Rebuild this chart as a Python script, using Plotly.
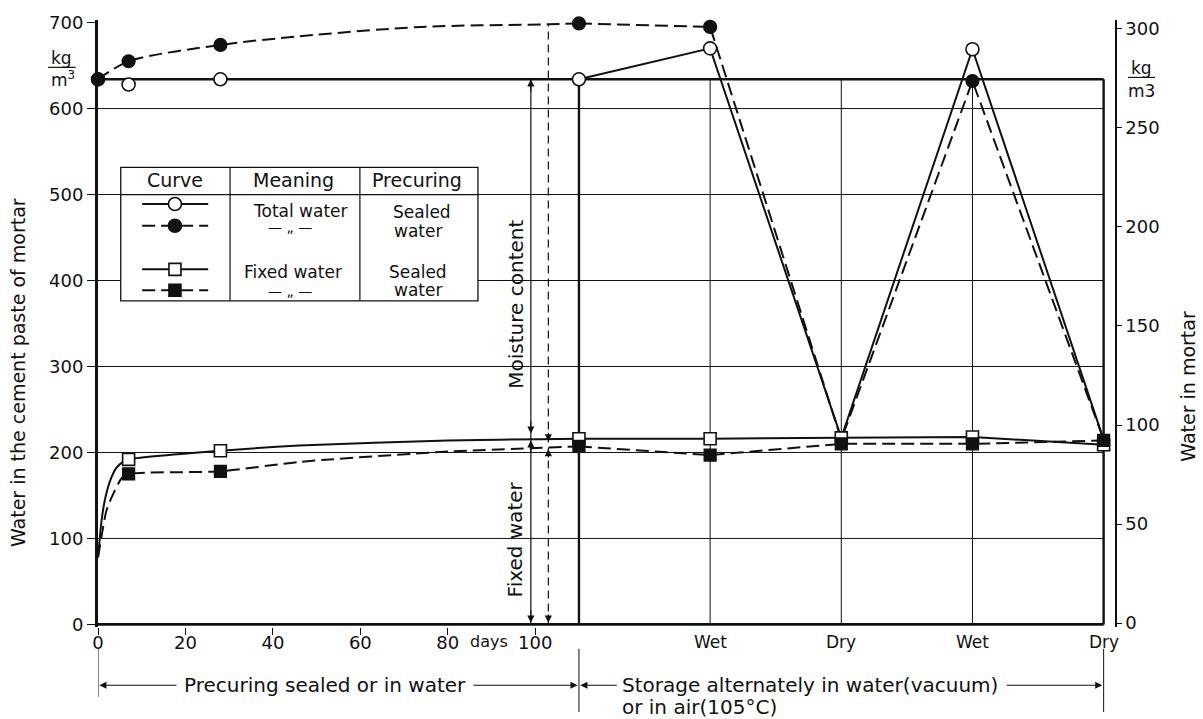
import plotly.graph_objects as go

FONT = "DejaVu Sans"
INK = "#111111"

# ---------------- data ----------------
# precuring ages in days; the storage stages continue on the same day scale
pre_days = [0, 7, 28, 110]
stage_days = [140, 170, 200, 230]
stage_labels = ["Wet", "Dry", "Wet", "Dry"]
day_ticks = [0, 20, 40, 60, 80, 100]
left_ticks = [0, 100, 200, 300, 400, 500, 600, 700]
right_ticks = [0, 50, 100, 150, 200, 250, 300]

# total water, kg/m3 of cement paste, at pre_days + stage_days
total_sealed = [634, 628, 634, 634, 670, 217, 669, 215]
total_water = [634, 655, 674, 699, 695, 215, 632, 215]
# water-precured total water along the precuring period
total_water_curve_days = [0, 7, 28, 46, 74, 103, 110]
total_water_curve = [634, 655, 674, 684, 695, 698, 699]

# fixed water, kg/m3 of cement paste, at the measured ages
fixed_days = [7, 28, 110, 140, 170, 200, 230]
fixed_sealed = [192, 202, 216, 216, 217, 218, 209]
fixed_water = [175, 178, 207, 197, 210, 210, 214]
# fixed-water growth during precuring
fixed_sealed_curve_days = [0, 0.8, 1.5, 2.7, 4.2, 5.7, 7, 28, 46, 80, 110]
fixed_sealed_curve = [78, 120, 143, 166, 182, 189, 192, 202, 208, 214, 216]
fixed_water_curve_days = [0, 1.0, 1.9, 3.4, 5.4, 7, 28, 46, 80, 110]
fixed_water_curve = [78, 108, 132, 151, 170, 175, 178, 189, 201, 207]

initial_water = total_sealed[0]
storage_start = pre_days[-1]
end_day = stage_days[-1]
marker_day_sealed = 99     # moisture / fixed water split, sealed
marker_day_water = 103     # moisture / fixed water split, water-precured

# ---------------- figure ----------------
all_days = pre_days + stage_days
wet_idx = list(range(len(pre_days))) + [len(pre_days) + k for k, s in enumerate(stage_labels) if s == "Wet"]
stor_x = [storage_start] + stage_days
n_pre_fixed = fixed_days.index(storage_start)

fig = go.Figure()

DASH = "13px,6px"
LW = 2.0

# total water
fig.add_trace(go.Scatter(x=stor_x, y=total_sealed[len(pre_days) - 1:], mode="lines",
                         line=dict(color=INK, width=LW), hoverinfo="skip"))
fig.add_trace(go.Scatter(x=total_water_curve_days, y=total_water_curve, mode="lines",
                         line=dict(color=INK, width=LW, dash=DASH, shape="spline", smoothing=0.8),
                         hoverinfo="skip"))
fig.add_trace(go.Scatter(x=stor_x, y=total_water[len(pre_days) - 1:], mode="lines",
                         line=dict(color=INK, width=LW, dash=DASH), hoverinfo="skip"))
# fixed water
fig.add_trace(go.Scatter(x=fixed_sealed_curve_days, y=fixed_sealed_curve, mode="lines",
                         line=dict(color=INK, width=LW, shape="spline", smoothing=0.6),
                         hoverinfo="skip"))
fig.add_trace(go.Scatter(x=fixed_days[n_pre_fixed:], y=fixed_sealed[n_pre_fixed:], mode="lines",
                         line=dict(color=INK, width=LW), hoverinfo="skip"))
fig.add_trace(go.Scatter(x=fixed_water_curve_days, y=fixed_water_curve, mode="lines",
                         line=dict(color=INK, width=LW, dash=DASH, shape="spline", smoothing=0.6),
                         hoverinfo="skip"))
fig.add_trace(go.Scatter(x=fixed_days[n_pre_fixed:], y=fixed_water[n_pre_fixed:], mode="lines",
                         line=dict(color=INK, width=LW, dash=DASH), hoverinfo="skip"))

# markers
fig.add_trace(go.Scatter(x=[all_days[i] for i in wet_idx], y=[total_sealed[i] for i in wet_idx],
                         mode="markers", cliponaxis=False, hoverinfo="skip",
                         marker=dict(symbol="circle", size=13, color="white",
                                     line=dict(color=INK, width=1.6))))
fig.add_trace(go.Scatter(x=[all_days[i] for i in wet_idx], y=[total_water[i] for i in wet_idx],
                         mode="markers", cliponaxis=False, hoverinfo="skip",
                         marker=dict(symbol="circle", size=13, color=INK,
                                     line=dict(color=INK, width=1.2))))
fig.add_trace(go.Scatter(x=fixed_days, y=fixed_sealed, mode="markers", cliponaxis=False,
                         hoverinfo="skip",
                         marker=dict(symbol="square", size=12, color="white",
                                     line=dict(color=INK, width=1.6))))
fig.add_trace(go.Scatter(x=fixed_days, y=fixed_water, mode="markers", cliponaxis=False,
                         hoverinfo="skip",
                         marker=dict(symbol="square", size=12, color=INK,
                                     line=dict(color=INK, width=1.2))))
# anchor for the right-hand axis
fig.add_trace(go.Scatter(x=[0], y=[0], yaxis="y2", mode="markers",
                         marker=dict(opacity=0), hoverinfo="skip"))

shapes = []


def seg(x0, y0, x1, y1, w=1.0, dash=None, layer="below", xref="x", yref="y"):
    d = dict(type="line", x0=x0, y0=y0, x1=x1, y1=y1, xref=xref, yref=yref,
             line=dict(color=INK, width=w), layer=layer)
    if dash:
        d["line"]["dash"] = dash
    return d


# grid inside the frame
for v in left_ticks[1:-1]:
    shapes.append(seg(0, v, end_day, v, 1.0))
for d in stage_days[:-1]:
    shapes.append(seg(d, 0, d, initial_water, 1.0))
# frame: initial water level, start of storage, end of storage, base line
shapes.append(seg(0, initial_water, end_day, initial_water, 2.4))
shapes.append(seg(storage_start, 0, storage_start, initial_water, 2.4))
shapes.append(seg(end_day, 0, end_day, initial_water, 2.4))
shapes.append(seg(0, 0, end_day, 0, 2.6))
# moisture / fixed water markers
shapes.append(seg(marker_day_sealed, 0, marker_day_sealed, initial_water, 1.2))
shapes.append(seg(marker_day_water, 0, marker_day_water, total_water_curve[-2], 1.2, dash="8px,5px"))

# bottom brackets
for d, y1 in [(0, -0.115), (storage_start, -0.14), (end_day, -0.14)]:
    shapes.append(seg(d, -0.036, d, y1, 1.0, layer="above", yref="paper"))

# kg/m3 fraction bars
shapes.append(seg(-0.049, 0.922, -0.022, 0.922, 1.2, layer="above", xref="paper", yref="paper"))
shapes.append(seg(1.0128, 0.9054, 1.0393, 0.9054, 1.2, layer="above", xref="paper", yref="paper"))

# legend table
LX0, LX1, LY0, LY1 = 5.2, 86.9, 376.4, 531.7
shapes.append(dict(type="rect", x0=LX0, x1=LX1, y0=LY0, y1=LY1, xref="x", yref="y",
                   fillcolor="white", line=dict(color=INK, width=1.3), layer="above"))
shapes.append(seg(LX0, 500, LX1, 500, 1.2, layer="above"))
shapes.append(seg(30.2, LY0, 30.2, LY1, 1.2, layer="above"))
shapes.append(seg(59.9, LY0, 59.9, LY1, 1.2, layer="above"))
rows = [(489, None, "circle", "white"), (463.7, DASH, "circle", INK),
        (413, None, "rect", "white"), (388.7, DASH, "rect", INK)]
for yv, dsh, kind, fill in rows:
    shapes.append(seg(10.1, yv, 25.2, yv, 2.0, dash=dsh, layer="above"))
    r = 6.5 if kind == "circle" else 6
    shapes.append(dict(type=kind, xref="x", yref="y", xsizemode="pixel", ysizemode="pixel",
                       xanchor=17.6, yanchor=yv, x0=-r, x1=r, y0=-r, y1=r,
                       fillcolor=fill, line=dict(color=INK, width=1.6), layer="above"))

ann = []


def txt(x, y, s, size=17, xref="x", yref="y", angle=0, xanchor="center", yanchor="middle"):
    ann.append(dict(x=x, y=y, xref=xref, yref=yref, text=s, showarrow=False,
                    textangle=angle, xanchor=xanchor, yanchor=yanchor,
                    font=dict(family=FONT, size=size, color=INK)))


def head(x, y, up, ay=14, xref="x", yref="y", ax=None, axref=None):
    a = dict(x=x, y=y, xref=xref, yref=yref, text="", showarrow=True,
             arrowhead=2, arrowsize=1.3, arrowwidth=1.1, arrowcolor=INK)
    if ax is None:
        a.update(ax=0, ay=(ay if up else -ay))
    else:
        a.update(ax=ax, axref=axref, ay=0)
    ann.append(a)


# legend texts
txt(17.6, 517, "Curve", 19)
txt(44.8, 517, "Meaning", 19)
txt(72.9, 517, "Precuring", 19)
txt(46.2, 481, "Total water", 17)
txt(43.9, 462, "\u2014 \u201e \u2014", 14)
txt(74.2, 480, "Sealed", 17)
txt(73.2, 458, "water", 17)
txt(44.6, 410, "Fixed water", 17)
txt(43.9, 388, "\u2014 \u201e \u2014", 14)
txt(73.2, 410, "Sealed", 17)
txt(73.2, 389, "water", 17)

# split labels
txt(95.4, 372, "Moisture content", 20, angle=-90)
txt(95.4, 99, "Fixed water", 20, angle=-90)
head(marker_day_sealed, initial_water, True)
head(marker_day_sealed, 222, False)
head(marker_day_sealed, 214, True)
head(marker_day_sealed, 2, False)
head(marker_day_water, 213, False, ay=10)
head(marker_day_water, 204, True, ay=10)
head(marker_day_water, 2, False, ay=10)

# x labels
txt(89.5, -0.024, "days", 16, yref="paper")
for d, s in zip(stage_days, stage_labels):
    txt(d, -0.024, s, 17, yref="paper")

# bracket texts and arrows
txt(52, -0.096, "Precuring sealed or in water", 20, yref="paper")
txt(119.5, -0.096, "Storage alternately in water(vacuum)", 20, yref="paper", xanchor="left")
txt(119.5, -0.131, "or in air(105\u00b0C)", 20, yref="paper", xanchor="left")
head(0.3, -0.096, False, xref="x", yref="paper", ax=18.3, axref="x")
head(storage_start - 0.3, -0.096, False, xref="x", yref="paper", ax=85.5, axref="x")
head(storage_start + 0.3, -0.096, False, xref="x", yref="paper", ax=119, axref="x")
head(end_day - 0.3, -0.096, False, xref="x", yref="paper", ax=207.5, axref="x")

# axis titles and units
txt(-0.0787, 0.42, "Water in the cement paste of mortar", 19, xref="paper", yref="paper", angle=-90)
txt(1.0718, 0.396, "Water in mortar", 19, xref="paper", yref="paper", angle=-90)
txt(-0.0355, 0.937, "kg", 17, xref="paper", yref="paper")
txt(-0.0345, 0.902, "m<sup>3</sup>", 17, xref="paper", yref="paper")
txt(1.0262, 0.9217, "kg", 17, xref="paper", yref="paper")
txt(1.0262, 0.8826, "m3", 17, xref="paper", yref="paper")

fig.update_layout(
    width=1203, height=719,
    margin=dict(l=98, r=88, t=14, b=92),
    paper_bgcolor="white", plot_bgcolor="white",
    showlegend=False,
    font=dict(family=FONT, size=18, color=INK),
    shapes=shapes, annotations=ann,
    xaxis=dict(range=[0, 232.6], tickvals=day_ticks, ticktext=[str(v) for v in day_ticks],
               ticks="outside", ticklen=7, tickwidth=1.4, tickcolor=INK,
               ticklabelstandoff=-8,
               showgrid=False, zeroline=False, showline=False,
               tickfont=dict(family=FONT, size=18, color=INK)),
    yaxis=dict(range=[-3, 703], tickvals=left_ticks, ticks="outside", ticklen=8,
               tickwidth=1.4, tickcolor=INK, showline=True, linewidth=3, linecolor=INK,
               showgrid=False, zeroline=False,
               tickfont=dict(family=FONT, size=18, color=INK)),
    yaxis2=dict(range=[-2, 304.5], overlaying="y", side="right", tickvals=right_ticks,
                ticks="outside", ticklen=5, tickwidth=1.4, tickcolor=INK,
                showline=True, linewidth=1.5, linecolor=INK,
                showgrid=False, zeroline=False,
                tickfont=dict(family=FONT, size=18, color=INK)),
)

fig.write_html("out.html")
